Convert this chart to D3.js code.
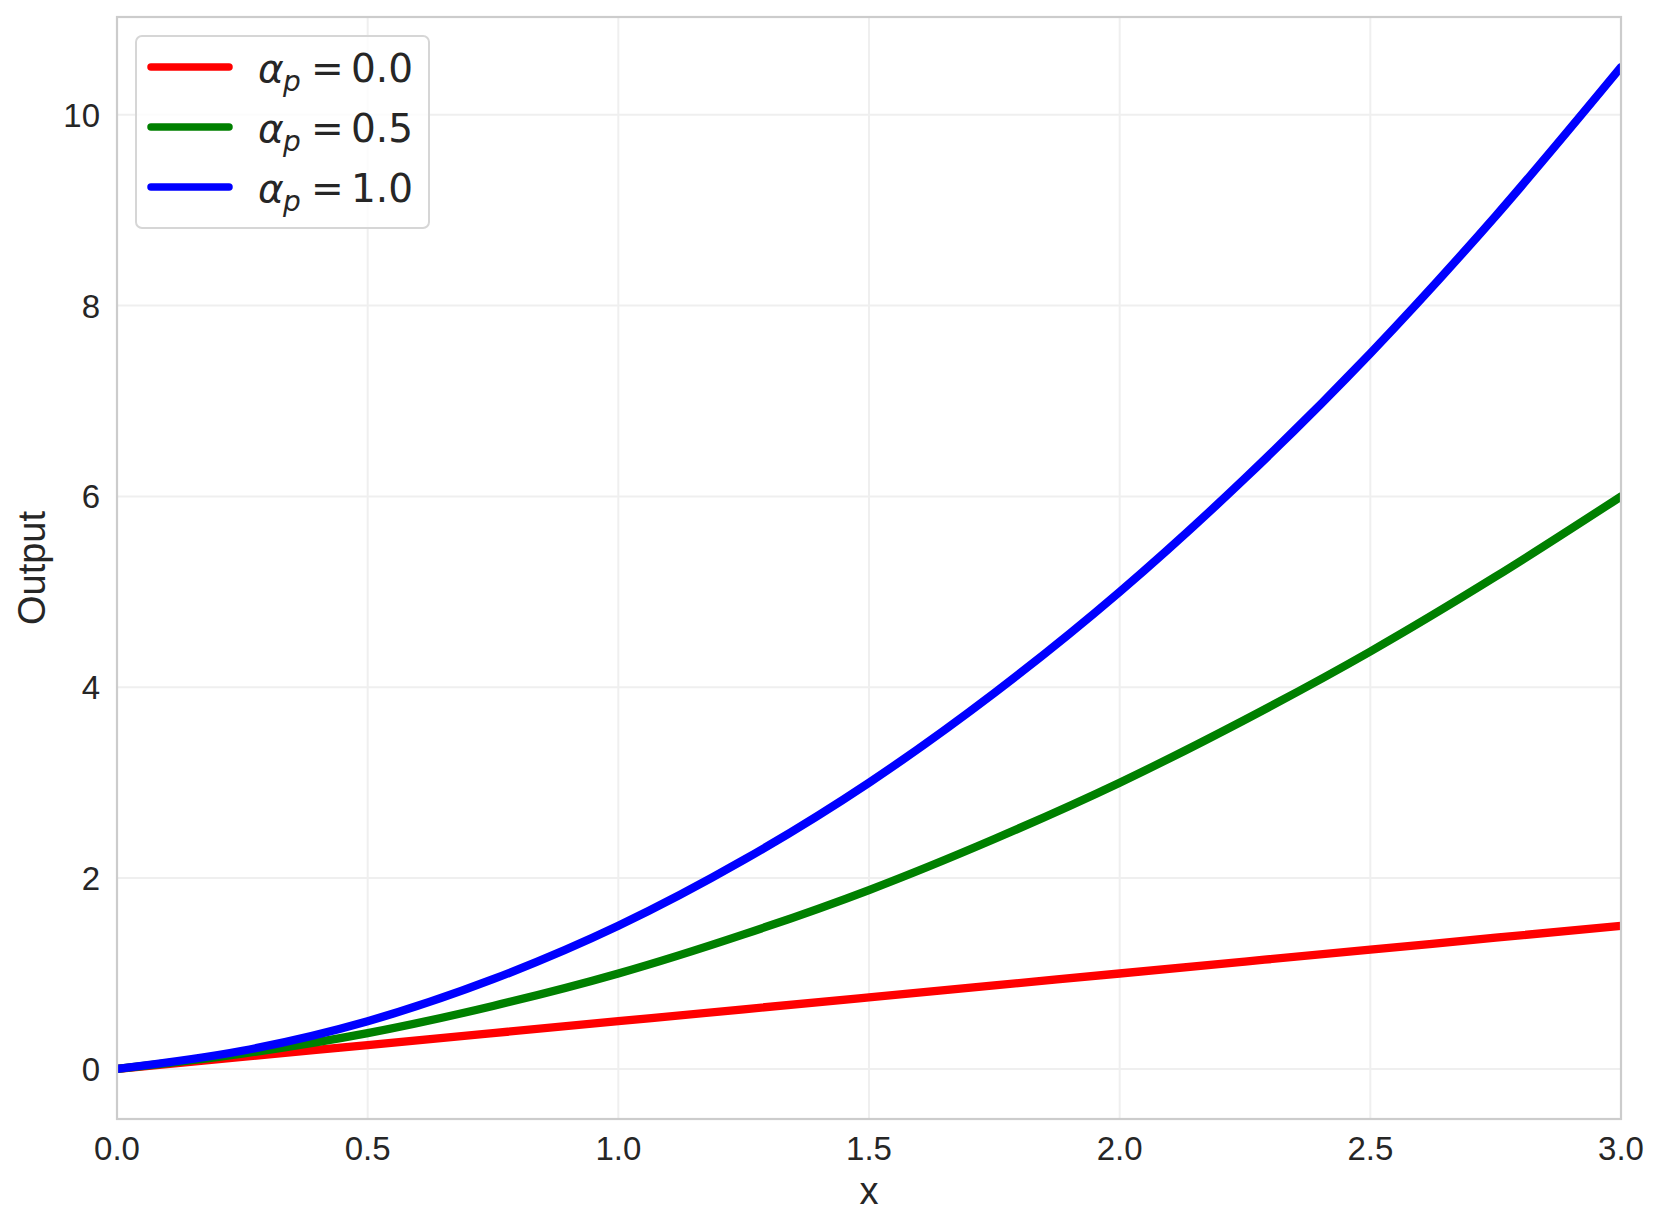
<!DOCTYPE html>
<meta charset="utf-8">
<script src="https://d3js.org/d3.v7.min.js"></script>
<style>
  body { margin: 0; background: #fff; }
</style>
<div id="my_dataviz"></div>
<script>

// values, every 0.25 on x
var xs = [0, 0.25, 0.5, 0.75, 1.0, 1.25, 1.5, 1.75, 2.0, 2.25, 2.5, 2.75, 3.0];
var out_a00 = [0, 0.125, 0.25, 0.375, 0.5, 0.625, 0.75, 0.875, 1.0, 1.125, 1.25, 1.375, 1.5];
var out_a05 = [0, 0.16, 0.375, 0.66, 1.0, 1.41, 1.875, 2.41, 3.0, 3.66, 4.375, 5.16, 6.0];
var out_a10 = [0, 0.19, 0.5, 0.94, 1.5, 2.19, 3.0, 3.94, 5.0, 6.19, 7.5, 8.94, 10.5];

var seriesNames = ["0.0", "0.5", "1.0"];
var seriesColors = ["#ff0000", "#008000", "#0000ff"];
var seriesValues = [out_a00, out_a05, out_a10];

var xTicks = [0, 0.5, 1.0, 1.5, 2.0, 2.5, 3.0];
var yTicks = [0, 2, 4, 6, 8, 10];

var W = 1662, H = 1229;
// plot box (note: "top" is taken by window.top, so use prefixed names)
var pL = 117, pR = 1621, pT = 17, pB = 1119;

var svg = d3.select("#my_dataviz")
  .append("svg")
    .attr("width", W)
    .attr("height", H)

var x = d3.scaleLinear().domain([0, 3]).range([pL, pR]);
var y = d3.scaleLinear().domain([-0.525, 11.025]).range([pB, pT]);

// grid
svg.append("g")
  .selectAll("line")
  .data(xTicks)
  .enter()
  .append("line")
    .attr("x1", function(d){ return x(d) })
    .attr("x2", function(d){ return x(d) })
    .attr("y1", pT)
    .attr("y2", pB)
    .style("stroke", "#efefef")
    .style("stroke-width", 2)

svg.append("g")
  .selectAll("line")
  .data(yTicks)
  .enter()
  .append("line")
    .attr("x1", pL)
    .attr("x2", pR)
    .attr("y1", function(d){ return y(d) })
    .attr("y2", function(d){ return y(d) })
    .style("stroke", "#efefef")
    .style("stroke-width", 2)

// curves
var line = d3.line()
  .x(function(d){ return x(d[0]) })
  .y(function(d){ return y(d[1]) })
  .curve(d3.curveMonotoneX)

svg.append("clipPath").attr("id", "clip")
  .append("rect")
    .attr("x", pL).attr("y", pT)
    .attr("width", pR - pL).attr("height", pB - pT)

svg.append("g")
  .attr("clip-path", "url(#clip)")
  .selectAll("path")
  .data(seriesValues)
  .enter()
  .append("path")
    .attr("d", function(vals){ return line(xs.map(function(v, i){ return [v, vals[i]] })) })
    .style("fill", "none")
    .style("stroke", function(d, i){ return seriesColors[i] })
    .style("stroke-width", 8.3)
    .style("stroke-linejoin", "round")
    .style("stroke-linecap", "round")

// frame
svg.append("rect")
  .attr("x", pL).attr("y", pT)
  .attr("width", pR - pL).attr("height", pB - pT)
  .style("fill", "none")
  .style("stroke", "#cccccc")
  .style("stroke-width", 2.2)

// tick labels
var tickFont = "'Liberation Sans', Arial, Helvetica, sans-serif";

svg.append("g")
  .selectAll("text")
  .data(xTicks)
  .enter()
  .append("text")
    .attr("x", function(d){ return x(d) })
    .attr("y", pB + 41)
    .attr("text-anchor", "middle")
    .style("font-family", tickFont)
    .style("font-size", "33px")
    .style("fill", "#262626")
    .text(function(d){ return d3.format(".1f")(d) })

svg.append("g")
  .selectAll("text")
  .data(yTicks)
  .enter()
  .append("text")
    .attr("x", pL - 17)
    .attr("y", function(d){ return y(d) + 12 })
    .attr("text-anchor", "end")
    .style("font-family", tickFont)
    .style("font-size", "33px")
    .style("fill", "#262626")
    .text(function(d){ return d })

// axis labels
svg.append("text")
  .attr("x", (pL + pR) / 2)
  .attr("y", 1204)
  .attr("text-anchor", "middle")
  .style("font-family", tickFont)
  .style("font-size", "38px")
  .style("fill", "#262626")
  .text("x")

svg.append("text")
  .attr("transform", "translate(45," + ((pT + pB) / 2) + ") rotate(-90)")
  .attr("text-anchor", "middle")
  .style("font-family", tickFont)
  .style("font-size", "38px")
  .style("fill", "#262626")
  .text("Output")

// legend
var legend = svg.append("g")

legend.append("rect")
  .attr("x", 136).attr("y", 36)
  .attr("width", 293).attr("height", 192)
  .attr("rx", 6).attr("ry", 6)
  .style("fill", "rgba(255,255,255,0.8)")
  .style("stroke", "#d6d6d6")
  .style("stroke-width", 2)

var mathFont = "'DejaVu Sans', sans-serif";

var items = legend.selectAll("g.item")
  .data(seriesNames)
  .enter()
  .append("g")
    .attr("class", "item")
    .attr("transform", function(d, i){ return "translate(0," + (67 + i * 60) + ")" })

items.append("line")
  .attr("x1", 151).attr("x2", 229)
  .attr("y1", 0).attr("y2", 0)
  .style("stroke", function(d, i){ return seriesColors[i] })
  .style("stroke-width", 7.5)
  .style("stroke-linecap", "round")

items.append("text")
  .attr("x", 258).attr("y", 15)
  .style("font-family", mathFont)
  .style("font-style", "italic")
  .style("font-size", "39px")
  .style("fill", "#262626")
  .text("\u03b1")

items.append("text")
  .attr("x", 283).attr("y", 24)
  .style("font-family", mathFont)
  .style("font-style", "italic")
  .style("font-size", "28px")
  .style("fill", "#262626")
  .text("p")

items.append("text")
  .attr("x", 311).attr("y", 15)
  .style("font-family", mathFont)
  .style("font-size", "39px")
  .style("fill", "#262626")
  .text("=")

items.append("text")
  .attr("x", 351).attr("y", 15)
  .style("font-family", mathFont)
  .style("font-size", "39px")
  .style("fill", "#262626")
  .text(function(d){ return d })

</script>
